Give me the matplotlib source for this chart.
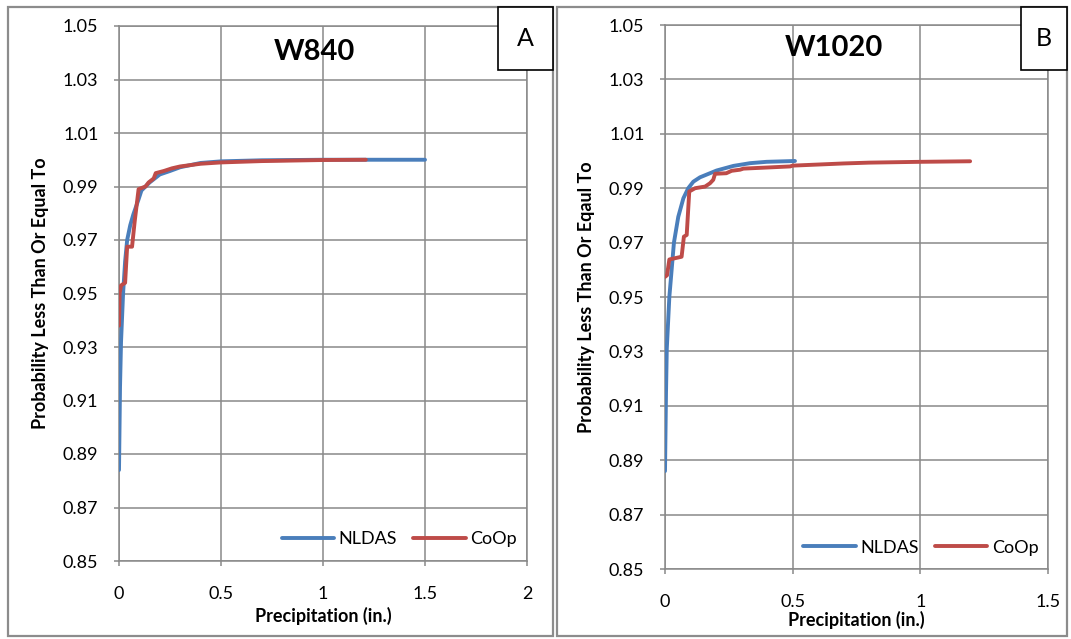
import matplotlib
matplotlib.use("Agg")
import matplotlib.pyplot as plt
from matplotlib.patches import Rectangle

# ---------------- data ----------------
a_nldas_x = [0, 0.005, 0.01, 0.02, 0.03, 0.04, 0.055, 0.07, 0.095, 0.11, 0.15, 0.2, 0.25, 0.3, 0.4, 0.5, 0.7, 1.0, 1.5]
a_nldas_y = [0.884, 0.915, 0.932, 0.950, 0.962, 0.970, 0.9755, 0.9795, 0.985, 0.9885, 0.9915, 0.9945, 0.9958, 0.9972, 0.9988, 0.9994, 0.9998, 1.0, 1.0]

a_coop_x = [0, 0.003, 0.01, 0.03, 0.04, 0.064, 0.077, 0.096, 0.13, 0.145, 0.17, 0.18, 0.22, 0.26, 0.3, 0.4, 0.5, 0.7, 1.0, 1.21]
a_coop_y = [0.938, 0.950, 0.953, 0.954, 0.9675, 0.9675, 0.977, 0.989, 0.990, 0.9915, 0.993, 0.995, 0.9958, 0.9968, 0.9975, 0.9985, 0.999, 0.9995, 0.9999, 1.0]

b_nldas_x = [0, 0.004, 0.007, 0.017, 0.035, 0.052, 0.072, 0.091, 0.111, 0.137, 0.202, 0.268, 0.333, 0.398, 0.509]
b_nldas_y = [0.886, 0.915, 0.931, 0.950, 0.970, 0.9795, 0.9863, 0.990, 0.9924, 0.9940, 0.9965, 0.9982, 0.9992, 0.9997, 1.0]

b_coop_x = [0, 0.008, 0.017, 0.065, 0.074, 0.085, 0.095, 0.118, 0.157, 0.176, 0.189, 0.196, 0.24, 0.261, 0.294, 0.307, 0.49, 0.5, 0.6, 0.7, 0.8, 1.0, 1.195]
b_coop_y = [0.9574, 0.958, 0.9638, 0.9648, 0.9722, 0.9728, 0.9888, 0.990, 0.9906, 0.9918, 0.9931, 0.9953, 0.9955, 0.9964, 0.9968, 0.9972, 0.998, 0.9983, 0.9987, 0.9991, 0.9994, 0.9997, 0.9999]

y_ticks = [0.85, 0.87, 0.89, 0.91, 0.93, 0.95, 0.97, 0.99, 1.01, 1.03, 1.05]
y_ticklabels = ["0.85", "0.87", "0.89", "0.91", "0.93", "0.95", "0.97", "0.99", "1.01", "1.03", "1.05"]
a_x_ticks = [0, 0.5, 1, 1.5, 2]
a_x_ticklabels = ["0", "0.5", "1", "1.5", "2"]
b_x_ticks = [0, 0.5, 1, 1.5]
b_x_ticklabels = ["0", "0.5", "1", "1.5"]

series_names = ["NLDAS", "CoOp"]
titles = ["W840", "W1020"]
panel_letters = ["A", "B"]
ylabels = ["Probability Less Than Or Equal To", "Probability Less Than Or Eqaul To"]
xlabel = "Precipitation (in.)"

# ---------------- style ----------------
plt.rcParams['font.family'] = ['Lato', 'DejaVu Sans']
W, H = 1071, 639
fig = plt.figure(figsize=(W / 100, H / 100), dpi=100)

BLUE = "#4A7EBB"
RED = "#BE4B48"
GRID = "#898989"

def fx(px):
    return px / W

def fy(py):
    return 1 - py / H

def make_axes(left, right, top, bottom):
    return fig.add_axes([fx(left), fy(bottom), fx(right) - fx(left), fy(top) - fy(bottom)])

# panel frames
for (l, r) in [(8, 553), (557, 1067)]:
    fig.patches.append(Rectangle((fx(l), fy(636)), fx(r) - fx(l), fy(7) - fy(636),
                                 transform=fig.transFigure, fill=False,
                                 edgecolor="#8c8c8c", linewidth=1.6, zorder=0))

axA = make_axes(119, 527, 26, 561)
axB = make_axes(665, 1048, 25, 569)

panels = [
    (axA, a_nldas_x, a_nldas_y, a_coop_x, a_coop_y, a_x_ticks, a_x_ticklabels, (0, 2)),
    (axB, b_nldas_x, b_nldas_y, b_coop_x, b_coop_y, b_x_ticks, b_x_ticklabels, (0, 1.5)),
]

legend_y = [0.041, 0.039]
title_pos = [(314, 52), (834, 48)]
xlabel_pads = [4, 1]
for i, (ax, nx, ny, cx, cy, xt, xtl, xlim) in enumerate(panels):
    ax.plot(nx, ny, color=BLUE, lw=2.8, label=series_names[0], solid_capstyle='round', zorder=3)
    ax.plot(cx, cy, color=RED, lw=2.8, label=series_names[1], solid_capstyle='round', zorder=4)
    ax.set_xlim(*xlim)
    ax.set_ylim(0.85, 1.05)
    ax.set_xticks(xt)
    ax.set_xticklabels(xtl)
    ax.set_yticks(y_ticks)
    ax.set_yticklabels(y_ticklabels)
    ax.grid(True, color=GRID, lw=1.1)
    ax.set_axisbelow(True)
    for s in ax.spines.values():
        s.set_color(GRID)
        s.set_linewidth(1.1)
    ax.tick_params(direction='out', length=3.8, width=1.1, color=GRID,
                   labelsize=13, labelcolor="black")
    ax.tick_params(axis='x', pad=14)
    ax.tick_params(axis='y', pad=11)
    ax.set_xlabel(xlabel, fontsize=13, fontweight='bold', labelpad=xlabel_pads[i])
    ax.set_ylabel(ylabels[i], fontsize=13, fontweight='bold', labelpad=10)
    tx, ty = title_pos[i]
    fig.text(fx(tx), fy(ty), titles[i], ha='center', va='center',
             fontsize=21, fontweight='bold')
    ax.legend(loc='center right', bbox_to_anchor=(0.975, legend_y[i]), ncol=2,
              frameon=False, fontsize=13, handlelength=2.9, handletextpad=0.25,
              columnspacing=0.9, borderpad=0, borderaxespad=0)

# letter boxes
for (l, r, letter) in [(498, 553, panel_letters[0]), (1021, 1067, panel_letters[1])]:
    fig.patches.append(Rectangle((fx(l), fy(70)), fx(r) - fx(l), fy(7) - fy(70),
                                 transform=fig.transFigure, facecolor="white",
                                 edgecolor="black", linewidth=1.2, zorder=5))
    fig.text(fx((l + r) / 2), fy(39), letter, ha='center', va='center', fontsize=18, zorder=6)

fig.savefig("out.png", dpi=100)
